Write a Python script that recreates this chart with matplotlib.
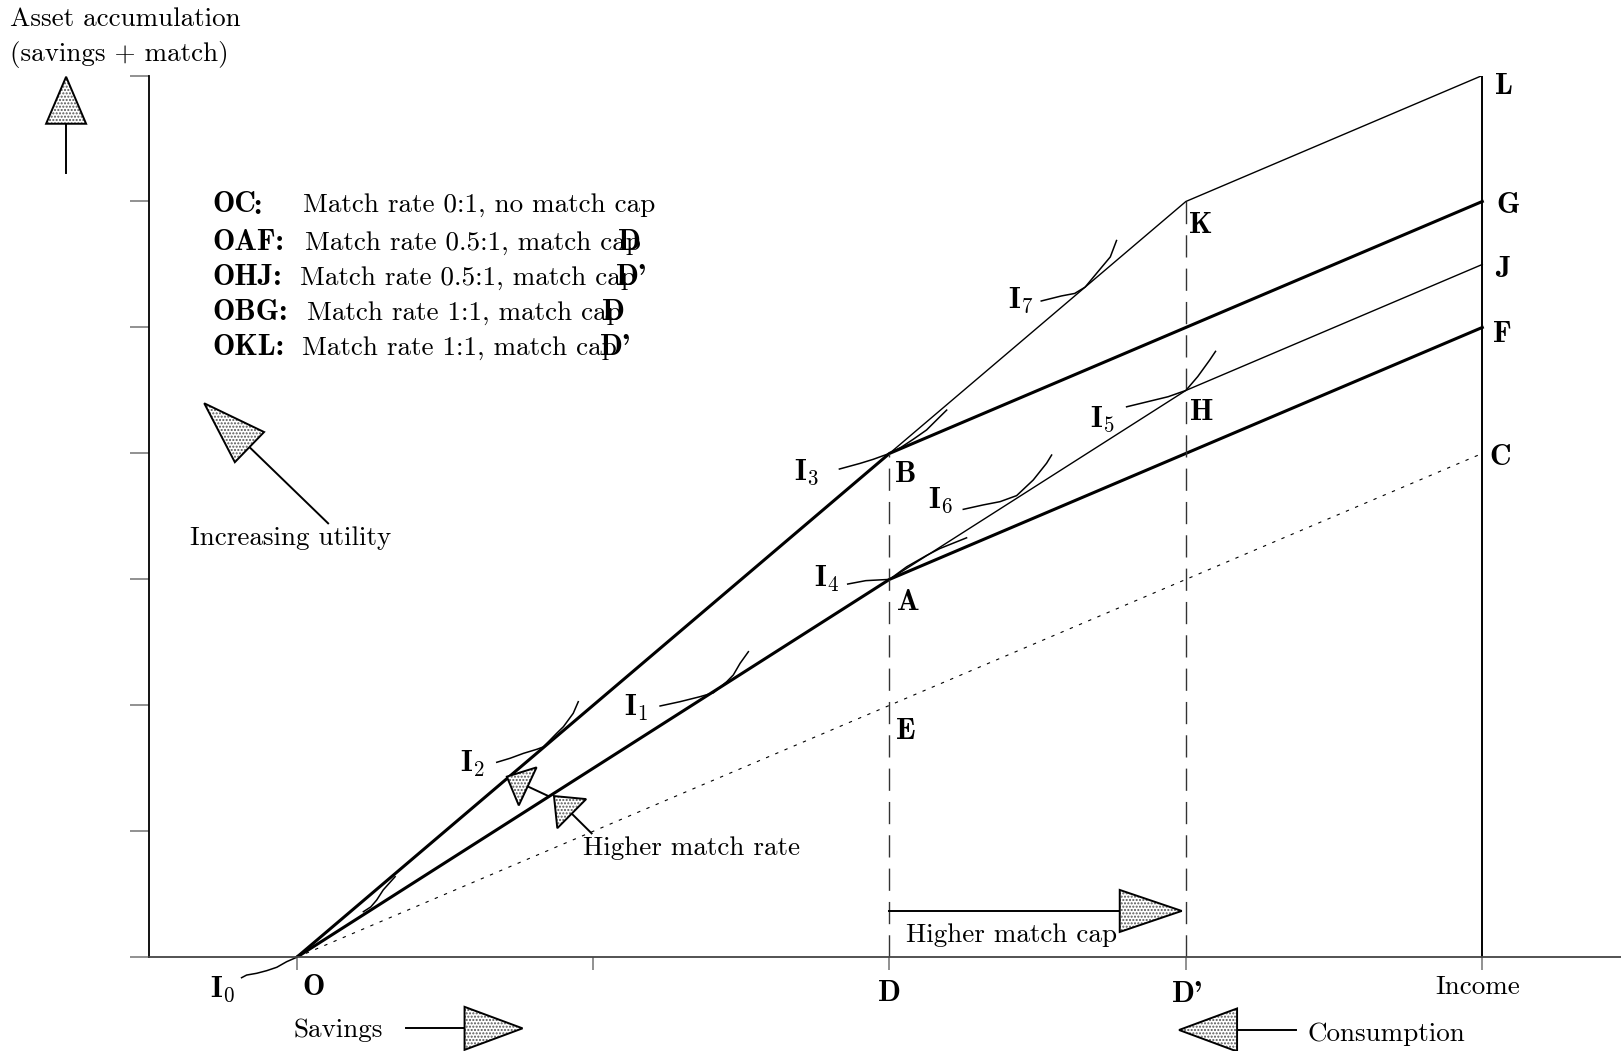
import numpy as np
import matplotlib
matplotlib.use("Agg")
import matplotlib.pyplot as plt
from matplotlib.patches import Polygon

plt.rcParams["mathtext.fontset"] = "cm"

# budget lines: savings on x (O=0, D=2, D'=3, income=4), assets on y
oc_x, oc_y = [0, 4], [0, 4]
oaf_x, oaf_y = [0, 2, 4], [0, 3, 5]
obg_x, obg_y = [0, 2, 4], [0, 4, 6]
ohj_x, ohj_y = [2, 3, 4], [3, 4.5, 5.5]
okl_x, okl_y = [2, 3, 4], [4, 6, 7]
cap_x = [2, 3]          # match caps D, D'
cap_top = [4, 6]        # B, K
income = 4
y_ticks = list(range(8))
x_ticks = list(range(5))

# hand drawn indifference curves
i0_x = [-0.186, -0.169, -0.135, -0.101, -0.067, -0.034, 0.0]
i0_y = [-0.162, -0.141, -0.127, -0.106, -0.079, -0.035, 0.0]
i0b_x = [0.225, 0.25, 0.27, 0.292, 0.332]
i0b_y = [0.362, 0.40, 0.455, 0.535, 0.64]
i1_x = [1.226, 1.293, 1.361, 1.406, 1.451, 1.473, 1.496, 1.524]
i1_y = [1.995, 2.029, 2.069, 2.10, 2.188, 2.241, 2.334, 2.426]
i2_x = [0.675, 0.720, 0.765, 0.810, 0.832, 0.877, 0.900, 0.933, 0.950]
i2_y = [1.548, 1.580, 1.619, 1.651, 1.67, 1.778, 1.831, 1.937, 2.029]
i3_x = [1.831, 1.901, 1.945, 2.0, 2.04, 2.08, 2.125, 2.170, 2.193]
i3_y = [3.876, 3.921, 3.953, 4.0, 4.05, 4.112, 4.186, 4.291, 4.344]
i4_x = [1.859, 1.92, 2.0, 2.058, 2.125, 2.17, 2.26]
i4_y = [2.963, 2.99, 3.0, 3.10, 3.19, 3.245, 3.33]
i5_x = [2.80, 2.87, 2.94, 3.0, 3.04, 3.08, 3.10]
i5_y = [4.37, 4.41, 4.45, 4.5, 4.61, 4.74, 4.81]
i6_x = [2.249, 2.316, 2.373, 2.429, 2.485, 2.530, 2.547]
i6_y = [3.556, 3.591, 3.617, 3.665, 3.789, 3.922, 3.987]
i7_x = [2.512, 2.58, 2.625, 2.66, 2.713, 2.745, 2.766]
i7_y = [5.21, 5.25, 5.27, 5.32, 5.47, 5.56, 5.69]

legend_rows = [
    ("OAF:", "Match rate 0.5:1, match cap", "D"),
    ("OHJ:", "Match rate 0.5:1, match cap", "D'"),
    ("OBG:", "Match rate 1:1, match cap", "D"),
    ("OKL:", "Match rate 1:1, match cap", "D'"),
]

W, H = 1621, 1051
fig = plt.figure(figsize=(W / 100, H / 100), dpi=100)
ax = fig.add_axes([148.5 / W, 93.7 / H, (W - 148.5) / W, (957.3 - 75.5) / H])
ax.set_xlim(-0.5, 4.468)
ax.set_ylim(0, 7)
for s in ("top", "right"):
    ax.spines[s].set_visible(False)
ax.spines["left"].set_color("black")
ax.spines["left"].set_linewidth(1.3)
ax.spines["bottom"].set_color("#444444")
ax.spines["bottom"].set_linewidth(1.3)
ax.set_yticks(y_ticks)
ax.set_xticks(x_ticks)
ax.tick_params(axis="y", direction="out", length=13.4, width=1.3, color="#888888", labelleft=False)
ax.tick_params(axis="x", direction="out", length=9.2, width=1.3, color="#888888", labelbottom=False)

RM = "cmr10"
BF = "cmb10"
FS = 19.5      # roman text
FB = 21.5      # bold labels (cmb10 is narrower than the bold extended face)

# budget lines
ax.plot(oc_x, oc_y, color="black", lw=0.8, dashes=(3, 6))
ax.plot(oaf_x, oaf_y, color="black", lw=2.2, solid_joinstyle="miter")
ax.plot(obg_x, obg_y, color="black", lw=2.2, solid_joinstyle="miter")
ax.plot(ohj_x, ohj_y, color="black", lw=1.0)
ax.plot(okl_x, okl_y, color="black", lw=1.0)
ax.plot([income, income], [0, okl_y[-1]], color="black", lw=1.4)
for cx, ct in zip(cap_x, cap_top):
    ax.plot([cx, cx], [0, ct], color="#333333", lw=1.0, dashes=(16, 8))

# indifference curves
for cxs, cys in [(i0_x, i0_y), (i0b_x, i0b_y), (i1_x, i1_y), (i2_x, i2_y), (i3_x, i3_y),
                 (i4_x, i4_y), (i5_x, i5_y), (i6_x, i6_y), (i7_x, i7_y)]:
    ax.plot(cxs, cys, color="black", lw=1.1, clip_on=False)


def block_arrow(tail, tip, head_len, head_w):
    T = ax.transData
    p0 = T.transform(tail)
    p1 = T.transform(tip)
    d = p1 - p0
    u = d / np.hypot(*d)
    n = np.array([-u[1], u[0]])
    base = p1 - u * head_len
    tri = np.array([p1, base + n * head_w / 2, base - n * head_w / 2])
    inv = T.inverted()
    sh = inv.transform(np.array([p0, base]))
    ax.plot(sh[:, 0], sh[:, 1], color="black", lw=1.4, clip_on=False)
    tri_d = inv.transform(tri)
    ax.add_patch(Polygon(tri_d, closed=True, facecolor="white", edgecolor="#555555",
                         hatch=".....", lw=0, clip_on=False, zorder=3))
    ax.add_patch(Polygon(tri_d, closed=True, fill=False, edgecolor="black",
                         lw=1.4, clip_on=False, zorder=4, joinstyle="miter"))


fig.canvas.draw()
block_arrow((-0.778, 6.224), (-0.778, 6.99), 47, 40)
block_arrow((0.106, 3.445), (-0.312, 4.398), 63, 42)
block_arrow((0.849, 1.280), (0.709, 1.434), 23, 42)
block_arrow((0.995, 0.984), (0.868, 1.280), 25, 41)
block_arrow((2.0, 0.368), (2.986, 0.368), 62, 42)
block_arrow((0.369, -0.564), (0.762, -0.564), 58, 43)
block_arrow((3.370, -0.577), (2.977, -0.577), 58, 43)

# axis titles and annotations
ax.text(-0.968, 7.393, "Asset accumulation", family=RM, fontsize=FS, va="baseline", clip_on=False)
ax.text(-0.968, 7.115, "(savings + match)", family=RM, fontsize=FS, va="baseline", clip_on=False)
ax.text(-0.359, 3.273, "Increasing utility", family=RM, fontsize=FS, va="baseline")
ax.text(0.967, 0.812, "Higher match rate", family=RM, fontsize=FS, va="baseline")
ax.text(2.056, 0.124, "Higher match cap", family=RM, fontsize=FS, va="baseline")
ax.text(-0.011, -0.635, "Savings", family=RM, fontsize=FS, va="baseline")
ax.text(3.410, -0.662, "Consumption", family=RM, fontsize=FS, va="baseline")
ax.text(3.986, -0.294, "Income", family=RM, fontsize=FS, va="baseline", ha="center")

# legend block
ax.text(-0.286, 5.919, "OC", family=BF, fontsize=FB, va="baseline")
ax.text(-0.146, 5.90, ":", family=BF, fontsize=FB, va="baseline")
ax.text(0.021, 5.919, "Match rate 0:1, no match cap", family=RM, fontsize=FS, va="baseline")
row_y = [5.615, 5.337, 5.059, 4.781]
row_tx = [0.028, 0.010, 0.035, 0.017]
row_dx = [1.085, 1.078, 1.029, 1.022]
for (lab, txt, cap), yy, tx, dx in zip(legend_rows, row_y, row_tx, row_dx):
    ax.text(-0.286, yy, lab, family=BF, fontsize=FB, va="baseline")
    ax.text(tx, yy, txt, family=RM, fontsize=FS, va="baseline")
    ax.text(dx, yy, cap, family=BF, fontsize=FB, va="baseline")

# point labels
points = {"L": (4.043, 6.851), "G": (4.049, 5.906), "J": (4.045, 5.403), "F": (4.037, 4.887),
          "C": (4.024, 3.908), "K": (3.009, 5.747), "H": (3.015, 4.265), "B": (2.019, 3.776),
          "A": (2.024, 2.757), "E": (2.023, 1.733), "O": (0.020, -0.299)}
for lab, (px, py) in points.items():
    ax.text(px, py, lab, family=BF, fontsize=FB, va="baseline")
ax.text(cap_x[0], -0.35, "D", family=BF, fontsize=FB, va="baseline", ha="center")
ax.text(cap_x[1] + 0.004, -0.352, "D'", family=BF, fontsize=FB, va="baseline", ha="center")

ilabels = [(-0.293, -0.313), (1.104, 1.916), (0.551, 1.474), (1.679, 3.789),
           (1.746, 2.942), (2.675, 4.212), (2.131, 3.564), (2.399, 5.152)]
for k, (lx, ly) in enumerate(ilabels):
    ax.text(lx, ly, r"$\mathbf{I}_{\mathbf{%d}}$" % k, fontsize=FB, va="baseline", clip_on=False)

fig.savefig("out.png", dpi=100)
